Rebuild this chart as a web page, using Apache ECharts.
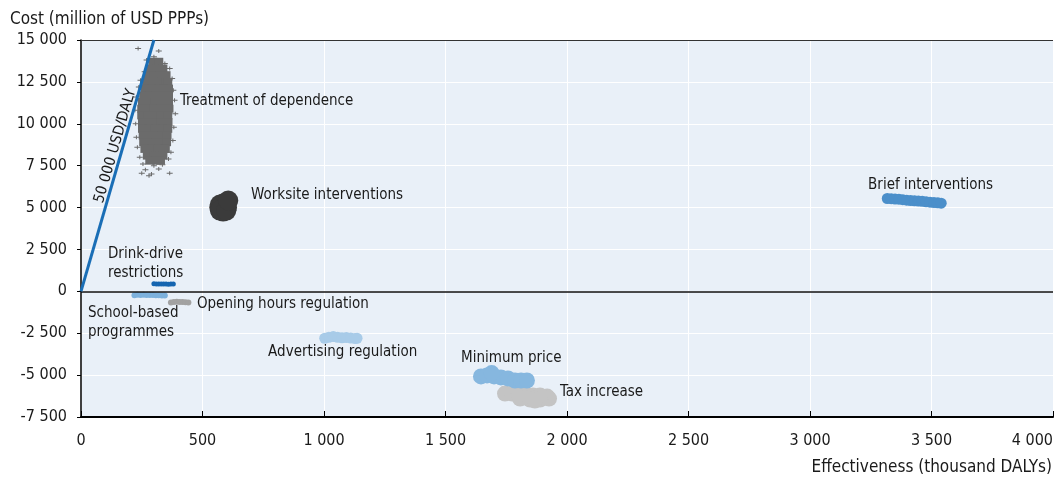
<!DOCTYPE html>
<html><head><meta charset="utf-8">
<script src="https://cdn.jsdelivr.net/npm/echarts@6/dist/echarts.min.js"></script>
<style>html,body{margin:0;padding:0;background:#fff}#c{width:1054px;height:479px}</style>
</head><body><div id="c"></div>
<script>
// ---- DATA (effectiveness in thousand DALYs, cost in million USD PPPs) ----
const xTicks = [0, 500, 1000, 1500, 2000, 2500, 3000, 3500, 4000];
const yTicks = [-7500, -5000, -2500, 0, 2500, 5000, 7500, 10000, 12500, 15000];
const thresholdUsdPerDaly = 50000;
const thresholdLine = [[0, 0], [300, 15000]];

const treatmentCore = [
  [296,13700],[320,13700],
  [285,13300],[312,13300],[337,13300],
  [275,12900],[301,12900],[327,12900],[350,12900],
  [270,12500],[296,12500],[322,12500],[348,12500],[357,12500],
  [265,12100],[290,12100],[318,12100],[343,12100],[360,12100],
  [258,11700],[284,11700],[310,11700],[336,11700],[360,11700],
  [253,11300],[279,11300],[306,11300],[333,11300],[360,11300],
  [250,10900],[276,10900],[302,10900],[329,10900],[356,10900],[362,10900],
  [250,10500],[277,10500],[303,10500],[330,10500],[357,10500],
  [253,10100],[279,10100],[305,10100],[331,10100],[358,10100],
  [253,9700],[280,9700],[306,9700],[332,9700],[357,9700],
  [256,9300],[282,9300],[308,9300],[334,9300],[354,9300],
  [258,8900],[284,8900],[310,8900],[336,8900],[352,8900],
  [263,8500],[289,8500],[315,8500],[341,8500],[347,8500],
  [273,8100],[299,8100],[325,8100],[337,8100],
  [283,7800],[310,7800],[327,7800]
];
const treatmentOutliers = [
  [235,14500],[320,14350],[300,14000],[270,13800],[345,13600],[365,13300],
  [262,13100],[375,12700],[245,12600],[380,12000],[238,12200],[385,11400],
  [228,11600],[222,10800],[388,10600],[225,10000],[382,9800],[228,9200],
  [378,9000],[232,8600],[370,8300],[242,8000],[360,7900],[255,7600],
  [300,7500],[335,7550],[265,7250],[320,7300],[250,7050],[290,7000],
  [365,7050],[280,6900]
];
const worksite = [
  [585,5000],[569,5000],[601,5000],[585,5240],[585,4760],
  [572,5180],[598,5180],[572,4820],[598,4820],[606,5420]
];
const brief = [
  [3318,5540],[3334,5530],[3350,5510],[3366,5500],[3382,5470],[3398,5440],
  [3414,5420],[3430,5400],[3446,5390],[3462,5370],[3478,5340],[3494,5320],
  [3510,5300],[3526,5280],[3540,5260]
];
const drinkDrive = [
  [300,450],[310,440],[320,445],[330,435],[340,445],[350,440],[360,430],[370,440],[380,445]
];
const schoolBased = [
  [220,-230],[232,-210],[245,-220],[258,-200],[270,-215],[283,-225],
  [296,-220],[308,-235],[320,-240],[333,-245],[345,-250]
];
const openingHours = [
  [370,-660],[382,-630],[394,-620],[406,-630],[418,-640],[430,-650],[442,-660]
];
const advertising = [
  [1003,-2800],[1020,-2740],[1038,-2700],[1056,-2740],[1074,-2770],
  [1092,-2760],[1110,-2790],[1128,-2820],[1136,-2800]
];
const minimumPrice = [
  [1646,-5080],[1671,-5020],[1700,-5080],[1728,-5140],[1757,-5200],
  [1786,-5320],[1811,-5320],[1835,-5320],[1690,-4880]
];
const taxIncrease = [
  [1745,-6100],[1774,-6100],[1802,-6160],[1831,-6160],[1860,-6220],[1889,-6220],
  [1918,-6280],[1926,-6400],[1807,-6400],[1848,-6460],[1889,-6460],[1868,-6520]
];
const labelNames = [
  'Treatment of dependence','Worksite interventions','Brief interventions',
  'Drink-drive\nrestrictions','Opening hours regulation','School-based\nprogrammes',
  'Advertising regulation','Minimum price','Tax increase'
];
const labelAnchors = [
  [407,11360],[700,5740],[3239,6340],[111,1645],[477,-777],[29,-1880],
  [770,-3650],[1564,-4010],[1971,-6040]
];

// ---- CHART ----
const FONT = '"DejaVu Sans Condensed","Liberation Sans Narrow",sans-serif';
const TXT = '#1a1a1a';
function fmt(v){
  const s = Math.abs(v).toString().replace(/\B(?=(\d{3})+(?!\d))/g, ' ');
  return (v < 0 ? '-' : '') + s;
}
const plusPath = 'path://M0,1.5h2.5v-1.5h1v1.5h2.5v1h-2.5v1.5h-1v-1.5h-2.5z';
function cloud(name, data, color, size, symbol){
  return {name, type:'scatter', data, symbol: symbol || 'circle', symbolSize: size,
    itemStyle:{color, opacity:1}, silent:true, animation:false};
}
const chart = echarts.init(document.getElementById('c'), null, {renderer:'canvas'});
const option = {
  animation:false,
  grid:{left:81, right:1, top:40, bottom:62, show:true, backgroundColor:'#e9f0f8',
    borderWidth:0, containLabel:false, outerBoundsMode:'none'},
  xAxis:{type:'value', min:xTicks[0], max:xTicks[xTicks.length-1], interval:500,
    axisLine:{show:true, onZero:false, lineStyle:{color:'#000', width:2}},
    axisTick:{show:true, inside:true, length:6, lineStyle:{color:'#000', width:1}},
    axisLabel:{formatter:fmt, color:TXT, fontFamily:FONT, fontSize:16, margin:16,
      alignMaxLabel:'right'},
    splitLine:{show:true, lineStyle:{color:'#fff', width:1}}},
  yAxis:{type:'value', min:yTicks[0], max:yTicks[yTicks.length-1], interval:2500,
    axisLine:{show:true, onZero:false, lineStyle:{color:'#000', width:1.5}},
    axisTick:{show:true, length:4, lineStyle:{color:'#000'}},
    axisLabel:{formatter:fmt, color:TXT, fontFamily:FONT, fontSize:16, margin:14},
    splitLine:{show:true, lineStyle:{color:'#fff', width:1}}},
  series:[
    cloud('Tax increase', taxIncrease, '#c4c4c4', 16),
    cloud('Minimum price', minimumPrice, '#86b7df', 16),
    cloud('Advertising regulation', advertising, '#a8cbe8', 11),
    cloud('Opening hours regulation', openingHours, '#a2a2a2', 6),
    cloud('School-based programmes', schoolBased, '#7db1dc', 6),
    cloud('Drink-drive restrictions', drinkDrive, '#1565b0', 5),
    cloud('Brief interventions', brief, '#4b8fca', 11),
    cloud('Worksite interventions', worksite, '#3b3b3b', 20),
    cloud('Treatment of dependence', treatmentCore, '#6b6b6b', [9,8], 'rect'),
    cloud('Treatment of dependence (tails)', treatmentOutliers, '#6b6b6b', [6,4], plusPath),
    {name:'axes', type:'line', data:[], silent:true,
      markLine:{silent:true, symbol:'none', animation:false, label:{show:false},
        data:[{yAxis:0, lineStyle:{color:'#111', width:1.5, type:'solid'}},
              {yAxis:15000, lineStyle:{color:'#333', width:1, type:'solid'}}]}},
    {name:'50 000 USD/DALY', type:'line', data:thresholdLine, symbol:'none', z:5,
      lineStyle:{color:'#1a6eb6', width:3}, silent:true, clip:true},
    {name:'labels', type:'scatter', symbolSize:0, z:6, silent:true,
      data: labelAnchors.map((p,i)=>({value:p, label:{formatter:labelNames[i]}})),
      label:{show:true, position:'right', distance:0, color:TXT, opacity:1,
        fontFamily:FONT, fontSize:15, lineHeight:19, align:'left'}}
  ]
};
chart.setOption(option);

// threshold label rotated along the line, axis titles
const p0 = chart.convertToPixel({gridIndex:0}, thresholdLine[0]);
const p1 = chart.convertToPixel({gridIndex:0}, thresholdLine[1]);
const ang = Math.atan2(p0[1]-p1[1], p1[0]-p0[0]);
const f = 0.57;
const mx = p0[0] + (p1[0]-p0[0])*f, my = p0[1] + (p1[1]-p0[1])*f;
chart.setOption({graphic:[
  {type:'text', x:mx, y:my, rotation:ang, z:10, silent:true,
    style:{text:fmt(thresholdUsdPerDaly)+' USD/DALY', fill:TXT, font:'15px '+FONT,
      align:'center', verticalAlign:'bottom'}},
  {type:'text', left:10, top:11, silent:true,
    style:{text:'Cost (million of USD PPPs)', fill:TXT, font:'17px '+FONT}},
  {type:'text', right:2, top:459, silent:true,
    style:{text:'Effectiveness (thousand DALYs)', fill:TXT, font:'17px '+FONT}}
]});
</script></body></html>
